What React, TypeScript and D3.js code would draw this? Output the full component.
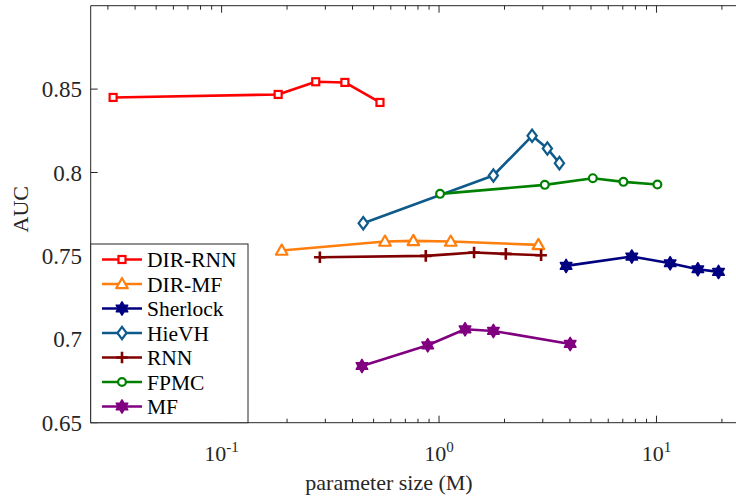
import React from "react";
import * as d3 from "d3";

const seriesNames = ["DIR-RNN", "DIR-MF", "Sherlock", "HieVH", "RNN", "FPMC", "MF"];
const dirRnnX = [0.0317, 0.182, 0.271, 0.369, 0.535];
const dirRnnY = [0.845, 0.8468, 0.8544, 0.854, 0.842];
const dirMfX = [0.189, 0.564, 0.762, 1.132, 2.864];
const dirMfY = [0.7532, 0.7586, 0.759, 0.7586, 0.7566];
const sherlockX = [3.84, 7.7, 11.56, 15.5, 19.29];
const sherlockY = [0.744, 0.7496, 0.7456, 0.742, 0.7404];
const hievhX = [0.448, 1.778, 2.679, 3.15, 3.578];
const hievhY = [0.7696, 0.7982, 0.822, 0.8144, 0.8056];
const rnnX = [0.283, 0.869, 1.449, 2.028, 2.947];
const rnnY = [0.7492, 0.75, 0.752, 0.7512, 0.7504];
const fpmcX = [1.011, 3.065, 5.097, 7.047, 10.1];
const fpmcY = [0.7872, 0.7926, 0.7966, 0.7944, 0.7928];
const mfX = [0.442, 0.887, 1.317, 1.778, 4.01];
const mfY = [0.684, 0.6964, 0.706, 0.705, 0.6972];

const yTicks = [0.65, 0.7, 0.75, 0.8, 0.85];
const yTickLabels = ["0.65", "0.7", "0.75", "0.8", "0.85"];
const xMajorTicks = [0.1, 1, 10];
const xTickExponents = ["-1", "0", "1"];
const xLabel = "parameter size (M)";
const yLabel = "AUC";

const colors = ["#ff0000", "#ff7f0e", "#000080", "#0e5a8a", "#800000", "#008000", "#800080"];
const markers = ["square", "triangle", "hexagram", "diamond", "plus", "circle", "hexagram"];
const xsAll = [dirRnnX, dirMfX, sherlockX, hievhX, rnnX, fpmcX, mfX];
const ysAll = [dirRnnY, dirMfY, sherlockY, hievhY, rnnY, fpmcY, mfY];

const L = 90.7, R = 743, T = 5.7, B = 422.7;
const x = d3.scaleLog().domain([0.025, 25]).range([L, R]);
const y = d3.scaleLinear().domain([0.65, 0.9]).range([B, T]);

const FONT = '"Times New Roman", Times, "Liberation Serif", Tinos, "Nimbus Roman", "Noto Serif", "DejaVu Serif", FreeSerif, serif';
const AX = "#262626";

function hexPath(r: number) {
  const pts: [number, number][] = [];
  for (let i = 0; i < 12; i++) {
    const a = -Math.PI / 2 + (i * Math.PI) / 6;
    const rr = i % 2 === 0 ? r : r * 0.58;
    pts.push([rr * Math.cos(a), rr * Math.sin(a)]);
  }
  return "M" + pts.map((p) => p.join(",")).join("L") + "Z";
}

function Marker({ type, cx, cy, color }: { type: string; cx: number; cy: number; color: string }) {
  const t = `translate(${cx},${cy})`;
  switch (type) {
    case "square":
      return <rect x={cx - 3.5} y={cy - 3.5} width={7} height={7} fill="white" stroke={color} strokeWidth={2.2} />;
    case "triangle":
      return <path transform={t} d="M0,-6L5.8,4.2L-5.8,4.2Z" fill="white" stroke={color} strokeWidth={2.2} strokeLinejoin="round" />;
    case "circle":
      return <circle cx={cx} cy={cy} r={3.9} fill="white" stroke={color} strokeWidth={2.2} />;
    case "diamond":
      return <path transform={t} d="M0,-6.2L4.6,0L0,6.2L-4.6,0Z" fill="white" stroke={color} strokeWidth={2.2} />;
    case "plus":
      return <path transform={t} d="M-5.8,0H5.8M0,-5.8V5.8" stroke={color} strokeWidth={2.6} fill="none" />;
    case "hexagram":
      return <path transform={t} d={hexPath(6.6)} fill={color} stroke={color} strokeWidth={1.6} strokeLinejoin="round" />;
    default:
      return null;
  }
}

const textStyle = { fontFamily: FONT };

export default function App() {
  const line = d3
    .line<[number, number]>()
    .x((d) => x(d[0]))
    .y((d) => y(d[1]));

  const minorTicks: number[] = [];
  for (let e = -2; e <= 1; e++) {
    for (let k = 2; k <= 9; k++) {
      const v = k * Math.pow(10, e);
      if (v >= 0.025 && v <= 25) minorTicks.push(v);
    }
  }

  const legX = L, legY = 244, legW = 248 - L, legH = B - 244;

  return (
    <svg width={736} height={498} style={{ position: "absolute", left: 0, top: 0, background: "white", fontFamily: FONT }}>
      <rect x={0} y={0} width={736} height={498} fill="white" />
      <defs>
        <clipPath id="plotclip">
          <rect x={L} y={T - 8} width={R - L} height={B - T + 16} />
        </clipPath>
      </defs>
      {/* axes box */}
      <g stroke={AX} strokeWidth={1} fill="none">
        <line x1={L} x2={R} y1={B} y2={B} />
        <line x1={L} x2={R} y1={T} y2={T} />
        <line x1={L} x2={L} y1={T} y2={B} />
        <line x1={R} x2={R} y1={T} y2={B} />
        {yTicks.map((v, i) => (
          <line key={"yt" + i} x1={L} x2={L + 7} y1={y(v)} y2={y(v)} />
        ))}
        {xMajorTicks.map((v, i) => (
          <g key={"xt" + i}>
            <line x1={x(v)} x2={x(v)} y1={B} y2={B - 7} />
            <line x1={x(v)} x2={x(v)} y1={T} y2={T + 7} />
          </g>
        ))}
        {minorTicks.map((v, i) => (
          <g key={"mt" + i}>
            <line x1={x(v)} x2={x(v)} y1={B} y2={B - 4} />
            <line x1={x(v)} x2={x(v)} y1={T} y2={T + 4} />
          </g>
        ))}
      </g>
      {/* tick labels */}
      {yTicks.map((v, i) => (
        <text key={"yl" + i} x={82} y={y(v)} dy="0.35em" textAnchor="end" fontSize={23} fill={AX} style={textStyle}>
          {yTickLabels[i]}
        </text>
      ))}
      {xMajorTicks.map((v, i) => (
        <text key={"xl" + i} x={x(v)} y={461} textAnchor="middle" fontSize={22} fill={AX} style={textStyle}>
          10
          <tspan dy={-9} fontSize={15}>
            {xTickExponents[i]}
          </tspan>
        </text>
      ))}
      <text x={389} y={490} textAnchor="middle" fontSize={22} fill={AX} style={textStyle}>
        {xLabel}
      </text>
      <text transform={`translate(28,${(T + B) / 2 - 5}) rotate(-90)`} textAnchor="middle" fontSize={22} fill={AX} style={textStyle}>
        {yLabel}
      </text>
      {/* series */}
      <g clipPath="url(#plotclip)">
        {xsAll.map((xs, si) => {
          const pts: [number, number][] = xs.map((v, j) => [v, ysAll[si][j]]);
          return (
            <g key={"s" + si}>
              <path d={line(pts) || ""} fill="none" stroke={colors[si]} strokeWidth={2.6} strokeLinejoin="round" />
              {pts.map((p, j) => (
                <Marker key={j} type={markers[si]} cx={x(p[0])} cy={y(p[1])} color={colors[si]} />
              ))}
            </g>
          );
        })}
      </g>
      {/* legend */}
      <rect x={legX} y={legY} width={legW} height={legH} fill="white" stroke={AX} strokeWidth={1} />
      {seriesNames.map((name, i) => {
        const ly = 259.5 + i * 24.5;
        return (
          <g key={"lg" + i}>
            <line x1={102} x2={142} y1={ly} y2={ly} stroke={colors[i]} strokeWidth={2.6} />
            <Marker type={markers[i]} cx={122} cy={ly} color={colors[i]} />
            <text x={147} y={ly} dy="0.35em" fontSize={21.5} fill="#000" style={textStyle}>
              {name}
            </text>
          </g>
        );
      })}
    </svg>
  );
}
